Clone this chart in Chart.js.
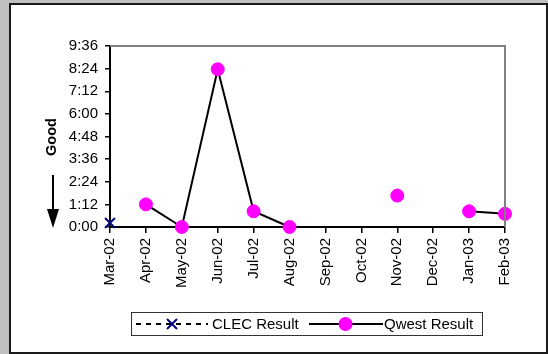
<!DOCTYPE html>
<html>
<head>
<meta charset="utf-8">
<script src="https://cdn.jsdelivr.net/npm/chart.js@4.4.0/dist/chart.umd.min.js"></script>
<style>
  html, body { margin: 0; padding: 0; background: #c0c0c0; }
  #wrap { position: absolute; left: 0; top: 0; width: 548px; height: 354px; }
</style>
</head>
<body>
<div id="wrap"><canvas id="lineChart" width="548" height="354"></canvas></div>
<script>
// months on the x axis
const months = ["Mar-02", "Apr-02", "May-02", "Jun-02", "Jul-02", "Aug-02",
  "Sep-02", "Oct-02", "Nov-02", "Dec-02", "Jan-03", "Feb-03"];

// values in minutes (h:mm on the axis)
const clecResult = [13, null, null, null, null, null, null, null, null, null, null, null];
const qwestResult = [72, 0, 502, 50, 0, null, null, 100, null, 50, 42];
qwestResult.unshift(null);

const yMax = 576;   // 9:36
const yStep = 72;   // 1:12

const FONT = "Arial, 'Liberation Sans', sans-serif";

function hmm(v) {
  const h = Math.floor(v / 60);
  const m = Math.round(v % 60);
  return h + ":" + (m < 10 ? "0" + m : m);
}

// grey page, white panel, plot frame, "Good" label + arrow, legend box
const decor = {
  id: "decor",
  beforeDraw(chart) {
    const ctx = chart.ctx;
    ctx.save();
    ctx.fillStyle = "#c0c0c0";
    ctx.fillRect(0, 0, 548, 354);
    ctx.fillStyle = "#1a1a1a";
    ctx.fillRect(9, 3, 539, 351);
    ctx.fillStyle = "#ffffff";
    ctx.fillRect(11, 5, 535, 347);
    ctx.restore();
  },
  afterDraw(chart) {
    const ctx = chart.ctx;
    const a = chart.chartArea;
    ctx.save();
    // grey top/right frame of plot
    ctx.strokeStyle = "#808080";
    ctx.lineWidth = 2;
    ctx.beginPath();
    ctx.moveTo(a.left, a.top);
    ctx.lineTo(a.right, a.top);
    ctx.lineTo(a.right, a.bottom);
    ctx.stroke();

    // "Good" label
    ctx.fillStyle = "#000";
    ctx.font = "bold 14.5px " + FONT;
    ctx.textAlign = "center";
    ctx.textBaseline = "middle";
    ctx.translate(52, 137);
    ctx.rotate(-Math.PI / 2);
    ctx.fillText("Good", 0, 0);
    ctx.setTransform(1, 0, 0, 1, 0, 0);

    // arrow pointing down
    ctx.strokeStyle = "#000";
    ctx.lineWidth = 2;
    ctx.beginPath();
    ctx.moveTo(53, 175);
    ctx.lineTo(53, 212);
    ctx.stroke();
    ctx.beginPath();
    ctx.moveTo(47, 209);
    ctx.lineTo(59, 209);
    ctx.lineTo(53, 228);
    ctx.closePath();
    ctx.fill();

    // legend
    ctx.strokeStyle = "#333";
    ctx.lineWidth = 1;
    ctx.strokeRect(131.5, 312.5, 351, 23);
    const ly = 324;
    ctx.strokeStyle = "#000";
    ctx.lineWidth = 2;
    ctx.setLineDash([5, 5]);
    ctx.beginPath();
    ctx.moveTo(136, ly);
    ctx.lineTo(208, ly);
    ctx.stroke();
    ctx.setLineDash([]);
    ctx.strokeStyle = "#000080";
    ctx.beginPath();
    ctx.moveTo(167, ly - 5);
    ctx.lineTo(177, ly + 5);
    ctx.moveTo(177, ly - 5);
    ctx.lineTo(167, ly + 5);
    ctx.stroke();

    ctx.strokeStyle = "#000";
    ctx.beginPath();
    ctx.moveTo(309, ly);
    ctx.lineTo(383, ly);
    ctx.stroke();
    ctx.fillStyle = "#ff00ff";
    ctx.beginPath();
    ctx.arc(345.5, ly, 7, 0, Math.PI * 2);
    ctx.fill();

    ctx.fillStyle = "#000";
    ctx.font = "15px " + FONT;
    ctx.textAlign = "left";
    ctx.fillText(chart.data.datasets[0].label, 212, ly + 1);
    ctx.fillText(chart.data.datasets[1].label, 384, ly + 1);
    ctx.restore();
  }
};

const ctx = document.getElementById("lineChart").getContext("2d");
new Chart(ctx, {
  type: "line",
  data: {
    labels: months,
    datasets: [
      {
        label: "CLEC Result",
        data: clecResult,
        borderColor: "#000",
        borderWidth: 2,
        borderDash: [5, 5],
        pointStyle: "crossRot",
        pointRadius: 7,
        pointBorderWidth: 2,
        pointBorderColor: "#000080",
        pointBackgroundColor: "#000080",
        spanGaps: false,
        clip: false,
        tension: 0,
      },
      {
        label: "Qwest Result",
        data: qwestResult,
        borderColor: "#000",
        borderWidth: 2,
        pointStyle: "circle",
        pointRadius: 6.5,
        pointBorderWidth: 1,
        pointBorderColor: "#ff00ff",
        pointBackgroundColor: "#ff00ff",
        spanGaps: false,
        clip: false,
        tension: 0,
      },
    ],
  },
  options: {
    responsive: false,
    animation: false,
    layout: { padding: { left: 0, top: 46, right: 43, bottom: 0 } },
    plugins: {
      legend: { display: false },
      tooltip: { enabled: false },
    },
    scales: {
      x: {
        offset: false,
        afterFit(scale) { scale.height = 127; },
        grid: {
          display: true,
          drawOnChartArea: false,
          drawTicks: true,
          tickLength: 6,
          color: "#000",
          lineWidth: 1.5,
        },
        border: { display: true, color: "#000", width: 2 },
        ticks: {
          color: "#000",
          font: { family: FONT, size: 15 },
          minRotation: 90,
          maxRotation: 90,
          autoSkip: false,
          padding: 5,
        },
      },
      y: {
        min: 0,
        max: yMax,
        afterFit(scale) { scale.width = 110; },
        grid: {
          display: true,
          drawOnChartArea: false,
          drawTicks: true,
          tickLength: 5,
          color: "#000",
          lineWidth: 1.5,
        },
        border: { display: true, color: "#000", width: 2 },
        ticks: {
          stepSize: yStep,
          color: "#000",
          font: { family: FONT, size: 15 },
          padding: 7,
          callback: (v) => hmm(v),
        },
      },
    },
  },
  plugins: [decor],
});
</script>
</body>
</html>
